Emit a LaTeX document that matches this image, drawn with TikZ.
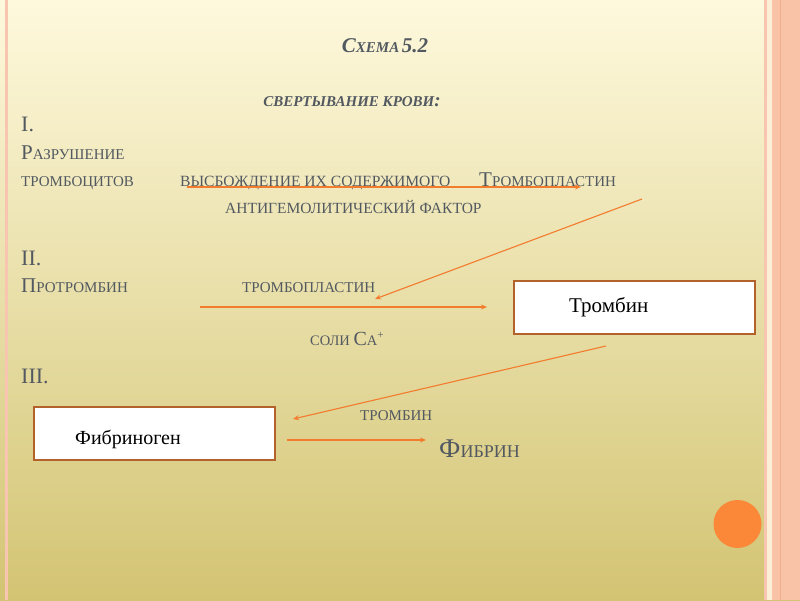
\documentclass[tikz,border=0pt]{standalone}
\usepackage{fontspec}
\setmainfont{Liberation Serif}
\usetikzlibrary{arrows.meta}
\definecolor{txt}{HTML}{535960}
\definecolor{arr}{HTML}{F27B2E}
\definecolor{boxb}{HTML}{B4622C}
\definecolor{bgtop}{HTML}{FEF9DD}
\definecolor{bgmid}{HTML}{F9E99B}
\definecolor{bgbot}{HTML}{D3C473}
\definecolor{pinkl}{HTML}{F8C6B0}
\definecolor{salmon}{HTML}{F9C3A7}
\definecolor{salmond}{HTML}{F2AE8C}
\definecolor{pale}{HTML}{FDEFD6}
\definecolor{dot}{HTML}{FB8838}
\newcommand\fsz[2]{{\fontsize{#1}{#1}\selectfont #2}}
\begin{document}
\begin{tikzpicture}[x=1pt,y=-1pt,
  lbl/.style={anchor=base west, inner sep=0pt, text=txt},
  boxtxt/.style={anchor=base west, inner sep=0pt, text=black},
  flow/.style={draw=arr, line width=1.3pt, -{Stealth[length=6pt,width=5pt]}},
  result/.style={draw=boxb, line width=1.8pt, fill=white, minimum width=241pt, minimum height=53pt, inner sep=0pt, anchor=north west},
  ]
\path[use as bounding box] (0,0) rectangle (800,600);
\shade[top color=bgtop, middle color=bgmid, bottom color=bgbot] (0,0) rectangle (800,600);
% borders
\fill[pinkl] (5,0) rectangle (8,600);
\fill[pinkl] (764,0) rectangle (766.5,600);
\fill[pale] (766.5,0) rectangle (772,600);
\fill[salmon] (772,0) rectangle (800,600);
\fill[salmond] (779.5,0) rectangle (781,600);
% texts
\node[lbl, anchor=base] (title) at (385,52) {\bfseries\itshape\fsz{21}{С}\fsz{15}{ХЕМА} \fsz{21}{5.2}};
\node[lbl, anchor=base] (sub) at (352,106) {\bfseries\itshape\fsz{15}{СВЕРТЫВАНИЕ КРОВИ}\fsz{19}{:}};
\node[lbl] (s1) at (21,131) {\fsz{22}{I.}};
\node[lbl] (razr) at (21,159) {\fsz{21}{Р}\fsz{15}{АЗРУШЕНИЕ}};
\node[lbl] (trc) at (21,186) {\fsz{15}{ТРОМБОЦИТОВ}};
\node[lbl] (vysb) at (180,186) {\fsz{15.6}{ВЫСБОЖДЕНИЕ ИХ СОДЕРЖИМОГО}};
\node[lbl] (tpl) at (479,186) {\fsz{21}{Т}\fsz{15}{РОМБОПЛАСТИН}};
\node[lbl] (anti) at (225,213) {\fsz{15.5}{АНТИГЕМОЛИТИЧЕСКИЙ ФАКТОР}};
\node[lbl] (s2) at (21,265) {\fsz{22}{II.}};
\node[lbl] (prot) at (21,292) {\fsz{21}{П}\fsz{15}{РОТРОМБИН}};
\node[lbl] (tpl2) at (242,292) {\fsz{15}{ТРОМБОПЛАСТИН}};
\node[result] (trombin) at (513,280) {};
\node[boxtxt] (trombintxt) at (569,312) {\fsz{21}{Тромбин}};
\node[lbl] (ca) at (310,345) {\fsz{14.5}{СОЛИ }\fsz{20}{С}\fsz{14.5}{А}\raisebox{7pt}{\fsz{11}{+}}};
\node[lbl] (s3) at (21,383) {\fsz{22}{III.}};
\node[result] (fibg) at (33,406) {};
\node[boxtxt] (fibgtxt) at (75,444) {\fsz{20}{Фибриноген}};
\node[lbl] (tr3) at (360,420) {\fsz{15}{ТРОМБИН}};
\node[lbl] (fibr) at (439,457) {\fsz{27}{Ф}\fsz{18}{ИБРИН}};
% connectors
\coordinate (a1s) at (187,187);
\coordinate (a1e) at (581,187);
\coordinate (d1s) at (642,199);
\coordinate (d1e) at (375,299);
\coordinate (a2s) at (200,307);
\coordinate (a2e) at (487,307);
\coordinate (d2s) at (606,346);
\coordinate (d2e) at (293,419);
\coordinate (a3s) at (287,440);
\coordinate (a3e) at (426,440);
\draw[flow] (a1s) -- (a1e);
\draw[flow, line width=1.1pt] (d1s) -- (d1e);
\draw[flow] (a2s) -- (a2e);
\draw[flow, line width=1.1pt] (d2s) -- (d2e);
\draw[flow] (a3s) -- (a3e);
% decorative dot
\fill[dot] (737.5,524) circle (24pt);
\end{tikzpicture}
\end{document}
